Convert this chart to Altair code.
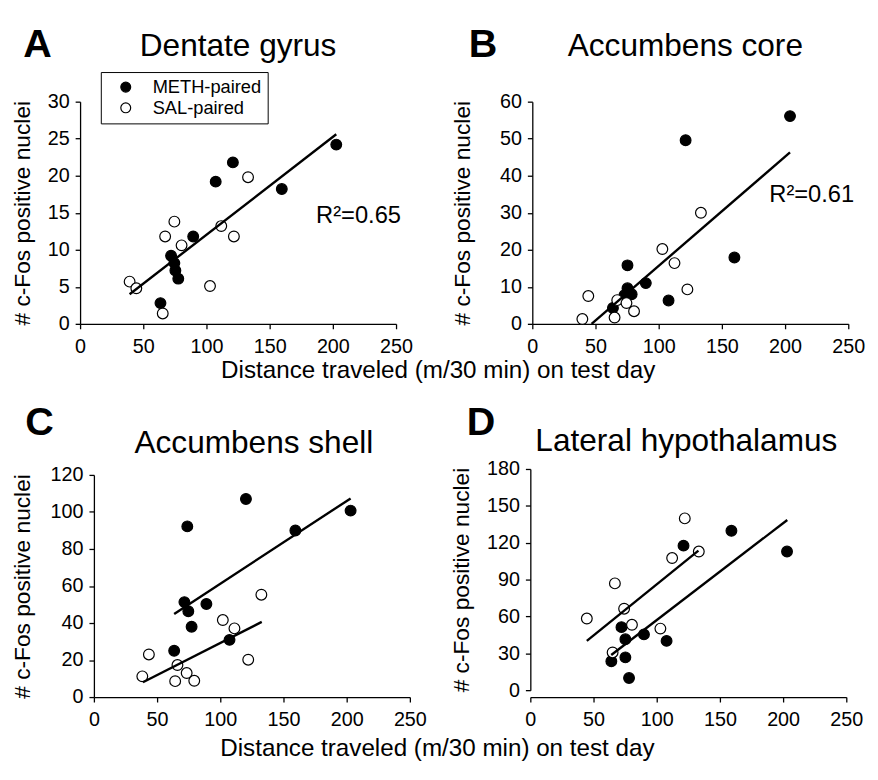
import altair as alt
import pandas as pd

FONT = "Liberation Sans"
GROUPS = ["METH-paired", "SAL-paired"]
X_TICKS = [0, 50, 100, 150, 200, 250]
X_TITLE = "Distance traveled (m/30 min) on test day"
Y_TITLE = "# c-Fos positive nuclei"

# ---- Panel A: Dentate gyrus ----
A_METH_X = [202.7, 120.9, 107.3, 159.6, 89.5, 72.0, 74.6, 75.4, 77.7, 63.6]
A_METH_Y = [24.2, 21.8, 19.2, 18.2, 11.8, 9.2, 8.2, 7.2, 6.1, 2.8]
A_SAL_X = [132.9, 74.6, 67.3, 111.7, 121.7, 80.3, 39.2, 44.5, 102.8, 65.4]
A_SAL_Y = [19.8, 13.8, 11.8, 13.2, 11.8, 10.6, 5.7, 4.8, 5.1, 1.4]
A_FIT_X = [39.2, 202.7]
A_FIT_Y = [4.0, 25.6]

# ---- Panel B: Accumbens core ----
B_METH_X = [203.9, 121.3, 159.9, 75.3, 89.8, 75.3, 78.6, 72.9, 107.8, 63.8]
B_METH_Y = [56.1, 49.6, 17.9, 15.8, 11.0, 9.6, 8.0, 7.7, 6.3, 4.3]
B_SAL_X = [133.4, 102.9, 112.5, 122.7, 44.3, 67.2, 74.5, 80.5, 39.6, 65.1]
B_SAL_Y = [30.0, 20.2, 16.4, 9.3, 7.5, 6.4, 5.6, 3.4, 1.3, 1.7]
B_FIT_X = [46.9, 203.9]
B_FIT_Y = [0.0, 46.3]

# ---- Panel C: Accumbens shell ----
C_METH_X = [120.3, 203.1, 73.9, 159.4, 71.6, 74.7, 89.0, 77.3, 107.3, 63.5]
C_METH_Y = [107.0, 100.7, 92.2, 90.0, 51.3, 46.4, 50.3, 38.0, 30.9, 25.0]
C_SAL_X = [132.5, 102.0, 111.2, 122.1, 43.5, 66.1, 73.4, 38.3, 64.3, 79.4]
C_SAL_Y = [55.3, 41.6, 37.1, 20.2, 23.0, 17.3, 13.0, 11.2, 8.6, 8.8]
C_METH_FIT_X = [63.5, 203.1]
C_METH_FIT_Y = [44.9, 107.3]
C_SAL_FIT_X = [38.8, 132.8]
C_SAL_FIT_Y = [8.0, 40.6]

# ---- Panel D: Lateral hypothalamus ----
D_METH_X = [159.1, 203.1, 121.2, 72.1, 89.9, 75.2, 107.8, 64.1, 75.2, 78.1]
D_METH_Y = [129.7, 112.8, 117.6, 51.3, 45.4, 41.4, 40.1, 23.5, 26.7, 9.9]
D_SAL_X = [122.2, 133.3, 112.2, 66.9, 74.2, 44.7, 80.4, 102.9, 65.1]
D_SAL_Y = [139.8, 112.8, 107.5, 86.9, 66.3, 58.3, 53.2, 50.1, 30.7]
D_METH_FIT_X = [64.0, 203.3]
D_METH_FIT_Y = [28.6, 138.5]
D_SAL_FIT_X = [44.7, 133.0]
D_SAL_FIT_Y = [40.1, 113.5]

W, H = 320, 225


def text_layer(txt, x, y, size, weight="normal", align="center"):
    return alt.Chart(pd.DataFrame({"t": [txt]})).mark_text(
        font=FONT, fontSize=size, fontWeight=weight, align=align,
        baseline="alphabetic", color="black"
    ).encode(text="t:N", x=alt.value(x), y=alt.value(y))


def panel(letter, name, mx, my, sx, sy, fits, ymax, ystep,
          letter_pos, title_pos, title_pad, r2=None, r2_pos=None, legend=False,
          xshift=0, ytop=0, ybot=H):
    pts = pd.DataFrame({
        "x": mx + sx,
        "y": my + sy,
        "group": [GROUPS[0]] * len(mx) + [GROUPS[1]] * len(sx),
    })
    rows = []
    for i, (fx, fy) in enumerate(fits):
        for a, b in zip(fx, fy):
            rows.append({"x": a, "y": b, "seg": i})
    fdf = pd.DataFrame(rows)

    xenc = alt.X("x:Q", scale=alt.Scale(domain=[0, 250], nice=False, range=[xshift, xshift + W]),
                 axis=alt.Axis(values=X_TICKS, title=None))
    yvals = list(range(0, ymax + 1, ystep))
    if xshift:
        yaxis = alt.Axis(values=yvals, title=Y_TITLE, titlePadding=title_pad, offset=-xshift)
    else:
        yaxis = alt.Axis(values=yvals, title=Y_TITLE, titlePadding=title_pad)
    yenc = alt.Y("y:Q", scale=alt.Scale(domain=[0, ymax], nice=False, range=[ybot, ytop]),
                 axis=yaxis)
    if legend:
        leg = alt.Legend(title=None, orient="none", legendX=21, legendY=-30,
                         strokeColor="black", fillColor="white", padding=6,
                         labelFontSize=18.5, labelFont=FONT, labelColor="black",
                         symbolType="circle", symbolSize=100, symbolStrokeColor="black",
                         symbolStrokeWidth=1.2, symbolOffset=10, labelOffset=18,
                         rowPadding=2)
    else:
        leg = None
    fill = alt.Fill("group:N", scale=alt.Scale(domain=GROUPS, range=["black", "white"]), legend=leg)

    points = alt.Chart(pts).mark_point(
        shape="circle", filled=True, size=118, stroke="black", strokeWidth=1.2, opacity=1
    ).encode(x=xenc, y=yenc, fill=fill)
    lines = alt.Chart(fdf).mark_line(color="black", strokeWidth=2.4).encode(
        x=xenc, y=yenc, detail="seg:N")
    layers = [points, lines,
              text_layer(letter, letter_pos[0], letter_pos[1], 40, "bold"),
              text_layer(name, title_pos[0], title_pos[1], 32)]
    if r2:
        layers.append(text_layer(r2, r2_pos[0], r2_pos[1], 24, align="left"))
    return alt.layer(*layers).properties(width=W + xshift, height=H)


pA = panel("A", "Dentate gyrus", A_METH_X, A_METH_Y, A_SAL_X, A_SAL_Y,
           [(A_FIT_X, A_FIT_Y)], 30, 5, (-43, -45), (160, -46), 13,
           r2="R²=0.65", r2_pos=(239, 123), legend=True)
pB = panel("B", "Accumbens core", B_METH_X, B_METH_Y, B_SAL_X, B_SAL_Y,
           [(B_FIT_X, B_FIT_Y)], 60, 10, (-50, -45), (155, -46), 25,
           r2="R²=0.61", r2_pos=(240, 102))
pC = panel("C", "Accumbens shell", C_METH_X, C_METH_Y, C_SAL_X, C_SAL_Y,
           [(C_METH_FIT_X, C_METH_FIT_Y), (C_SAL_FIT_X, C_SAL_FIT_Y)], 120, 20,
           (-41, -40), (176, -22), 15.6, xshift=14)
pD = panel("D", "Lateral hypothalamus", D_METH_X, D_METH_Y, D_SAL_X, D_SAL_Y,
           [(D_METH_FIT_X, D_METH_FIT_Y), (D_SAL_FIT_X, D_SAL_FIT_Y)], 180, 30,
           (-50, -40), (158, -24), 13.6, ytop=-6, ybot=218)


def xtitle(offset):
    return alt.TitleParams(X_TITLE, orient="bottom", anchor="middle", fontSize=24.5,
                           font=FONT, fontWeight="normal", color="black", offset=offset)


row1 = alt.hconcat(pA, pB, spacing=39).resolve_scale(fill="independent").properties(
    title=xtitle(3))
row2 = alt.hconcat(pC, pD, spacing=24).resolve_scale(fill="independent").properties(
    title=xtitle(8))

chart = alt.vconcat(row1, row2, spacing=21).resolve_scale(fill="independent").configure_axis(
    domainColor="black", domainWidth=1.3, tickColor="black", tickWidth=1.3, tickSize=5,
    labelColor="black", labelFont=FONT, labelFontSize=20, titleFont=FONT,
    titleFontSize=23, titleFontWeight="normal", titleColor="black", grid=False,
    labelOverlap=False,
).configure_axisX(labelPadding=8, labelFlush=False).configure_axisY(
    labelPadding=6
).configure_view(stroke=None).properties(
    background="white", padding={"left": 3, "top": 13, "right": 5, "bottom": 5})

chart.save("out.html", embed_options={"renderer": "svg", "actions": False})
